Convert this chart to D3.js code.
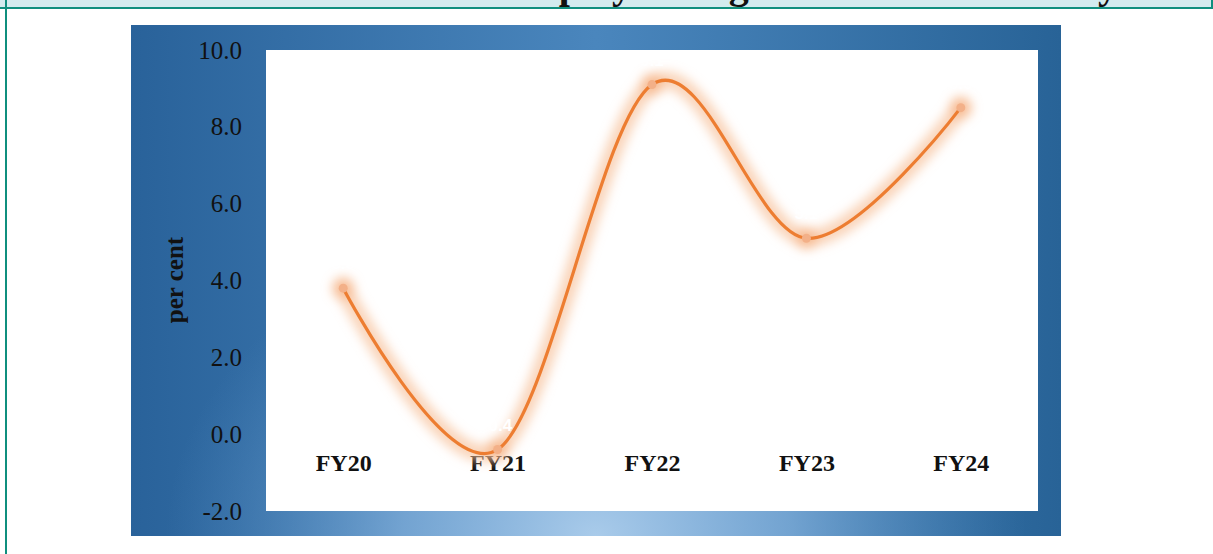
<!DOCTYPE html>
<html>
<head>
<meta charset="utf-8">
<script src="https://cdn.jsdelivr.net/npm/d3@7"></script>
<style>
  html, body { margin: 0; padding: 0; background: #fff; }
  svg { display: block; }
</style>
</head>
<body>
<svg width="1213" height="554"></svg>
<script>
// chart values
var categories = ["FY20", "FY21", "FY22", "FY23", "FY24"];
var growth = [3.8, -0.4, 9.1, 5.1, 8.5];
var yTicks = [-2, 0, 2, 4, 6, 8, 10];
var yLabel = "per cent";
var title = "Chart 1: Employment growth in the economy";

var svg = d3.select("svg"),
    width = +svg.attr("width"),
    height = +svg.attr("height");

var outer = {x0: 131, y0: 25, x1: 1061, y1: 536},
    plot = {left: 266, right: 1038, top: 50, bottom: 511};

var defs = svg.append("defs");

var lin = defs.append("linearGradient").attr("id", "bgLin")
    .attr("x1", 0).attr("x2", 1).attr("y1", 0).attr("y2", 0);
lin.append("stop").attr("offset", "0%").attr("stop-color", "#29629a");
lin.append("stop").attr("offset", "50%").attr("stop-color", "#4a86bd");
lin.append("stop").attr("offset", "100%").attr("stop-color", "#286397");

var cx = (outer.x0 + outer.x1) / 2;
var rad = defs.append("radialGradient").attr("id", "bgRad")
    .attr("gradientUnits", "userSpaceOnUse")
    .attr("cx", cx).attr("cy", outer.y1)
    .attr("r", 430)
    .attr("gradientTransform", "translate(" + cx + "," + outer.y1 + ") scale(1,0.75) translate(" + (-cx) + "," + (-outer.y1) + ")");
rad.append("stop").attr("offset", "0%").attr("stop-color", "#a9cbea").attr("stop-opacity", 1);
rad.append("stop").attr("offset", "45%").attr("stop-color", "#8ab6e0").attr("stop-opacity", 0.7);
rad.append("stop").attr("offset", "100%").attr("stop-color", "#5a93c8").attr("stop-opacity", 0);

var glow = defs.append("filter").attr("id", "glow")
    .attr("x", "-20%").attr("y", "-20%").attr("width", "140%").attr("height", "140%");
glow.append("feGaussianBlur").attr("stdDeviation", 5.5);

// title strip (title runs off the top edge, as in the source)
svg.append("rect").attr("x", 0).attr("y", 0).attr("width", width).attr("height", 8).attr("fill", "#d3ebee");
svg.append("text")
    .attr("x", 1118).attr("y", -2)
    .attr("text-anchor", "end")
    .attr("font-family", "'Liberation Serif', 'Times New Roman', serif")
    .attr("font-weight", "bold").attr("font-size", 40)
    .attr("fill", "#111")
    .text(title);
svg.append("rect").attr("x", 0).attr("y", 7).attr("width", width).attr("height", 2).attr("fill", "#0f8f7e");
svg.append("rect").attr("x", 5).attr("y", 0).attr("width", 2).attr("height", height).attr("fill", "#0f8f7e");
svg.append("rect").attr("x", 1211).attr("y", 0).attr("width", 2).attr("height", 9).attr("fill", "#0f8f7e");

// chart area
svg.append("rect").attr("x", outer.x0).attr("y", outer.y0)
    .attr("width", outer.x1 - outer.x0).attr("height", outer.y1 - outer.y0)
    .attr("fill", "url(#bgLin)");
svg.append("rect").attr("x", outer.x0).attr("y", outer.y0)
    .attr("width", outer.x1 - outer.x0).attr("height", outer.y1 - outer.y0)
    .attr("fill", "url(#bgRad)");

svg.append("rect").attr("x", plot.left).attr("y", plot.top)
    .attr("width", plot.right - plot.left).attr("height", plot.bottom - plot.top)
    .attr("fill", "#fff");

var x = d3.scalePoint().domain(categories).range([plot.left, plot.right]).padding(0.5);
var y = d3.scaleLinear().domain([-2, 10]).range([plot.bottom, plot.top]);

var serif = "'Liberation Serif', 'Times New Roman', serif";

var yAxis = svg.append("g")
    .attr("transform", "translate(" + plot.left + ",0)")
    .call(d3.axisLeft(y).tickValues(yTicks).tickSize(0).tickPadding(24)
        .tickFormat(function(d) { return d.toFixed(1); }));
yAxis.select(".domain").remove();
yAxis.selectAll("text")
    .attr("font-family", serif).attr("font-size", 25).attr("fill", "#111");

svg.append("text")
    .attr("transform", "translate(183,280) rotate(-90)")
    .attr("text-anchor", "middle")
    .attr("font-family", serif).attr("font-weight", "bold").attr("font-size", 25)
    .attr("fill", "#111")
    .text(yLabel);

var xAxis = svg.append("g")
    .attr("transform", "translate(0," + y(0) + ")")
    .call(d3.axisBottom(x).tickSize(0).tickPadding(20));
xAxis.select(".domain").remove();
xAxis.selectAll("text")
    .attr("font-family", serif).attr("font-weight", "bold").attr("font-size", 24).attr("fill", "#111");

var pts = categories.map(function(c, i) { return {cat: c, v: growth[i]}; });

var line = d3.line()
    .x(function(d) { return x(d.cat); })
    .y(function(d) { return y(d.v); })
    .curve(d3.curveCardinal.tension(0));

// glow behind the line
var glowG = svg.append("g").attr("filter", "url(#glow)");
glowG.append("path").datum(pts)
    .attr("d", line)
    .attr("fill", "none")
    .attr("stroke", "#f7c29b")
    .attr("stroke-width", 17)
    .attr("stroke-opacity", 0.7)
    .attr("stroke-linecap", "round");
glowG.selectAll("circle").data(pts).enter().append("circle")
    .attr("cx", function(d) { return x(d.cat); })
    .attr("cy", function(d) { return y(d.v); })
    .attr("r", 11)
    .attr("fill", "#f5b182")
    .attr("fill-opacity", 0.7);

svg.append("path").datum(pts)
    .attr("d", line)
    .attr("fill", "none")
    .attr("stroke", "#ed7d31")
    .attr("stroke-width", 3.2);

svg.selectAll(".dot").data(pts).enter().append("circle")
    .attr("class", "dot")
    .attr("cx", function(d) { return x(d.cat); })
    .attr("cy", function(d) { return y(d.v); })
    .attr("r", 4.5)
    .attr("fill", "#f3b088");

// data labels (white)
svg.selectAll(".lbl").data(pts).enter().append("text")
    .attr("class", "lbl")
    .attr("x", function(d) { return x(d.cat); })
    .attr("y", function(d) { return y(d.v) - 19; })
    .attr("text-anchor", "middle")
    .attr("font-family", "'Liberation Sans', Arial, sans-serif")
    .attr("font-weight", "bold").attr("font-size", 17)
    .attr("fill", "#fff")
    .text(function(d) { return d.v.toFixed(1); });
</script>
</body>
</html>
